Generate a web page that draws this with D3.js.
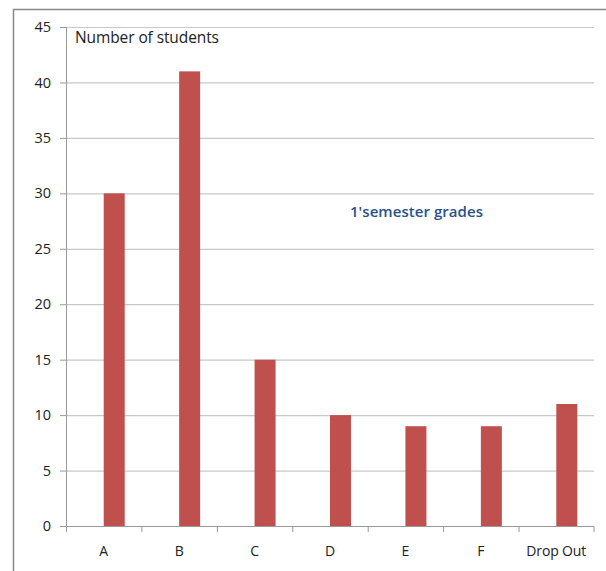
<!DOCTYPE html>
<meta charset="utf-8">
<script src="https://d3js.org/d3.v7.min.js"></script>
<style>
  body { margin: 0; background: #fff; }
  text { font-family: "Open Sans", "Liberation Sans", sans-serif; }
</style>
<body></body>
<script>

var grades = ["A", "B", "C", "D", "E", "F", "Drop Out"];
var students = [30, 41, 15, 10, 9, 9, 11];
var yTicks = [0, 5, 10, 15, 20, 25, 30, 35, 40, 45];

var W = 606, H = 571;
var margin = {left: 66, right: 12, top: 27, bottom: 45};
var width = 594 - margin.left;
var height = 526 - margin.top;

var svg = d3.select("body").append("svg")
  .attr("width", W)
  .attr("height", H);

// outer frame (top and left only)
svg.append("path")
  .attr("d", "M13.5,571 V9.5 H606")
  .attr("fill", "none")
  .attr("stroke", "#888")
  .attr("stroke-width", 1.5);

var g = svg.append("g")
  .attr("transform", `translate(${margin.left},${margin.top})`);

var xScale = d3.scaleBand()
  .domain(grades)
  .range([0, width]);
var yScale = d3.scaleLinear()
  .domain([0, 45])
  .range([height, 0]);

// gridlines
g.selectAll(".grid")
  .data(yTicks.filter(d => d > 0))
  .enter().append("line")
  .attr("x1", 0)
  .attr("x2", width)
  .attr("y1", d => yScale(d) + 0.5)
  .attr("y2", d => yScale(d) + 0.5)
  .attr("stroke", "#c8c8c8")
  .attr("stroke-width", 1.2);

// bars (offset right of category centre, like an excel chart with an empty series)
var barW = 21;
g.selectAll(".bar")
  .data(students)
  .enter().append("rect")
  .attr("class", "bar")
  .attr("x", (d, i) => xScale(grades[i]) + xScale.bandwidth() / 2)
  .attr("y", d => yScale(d))
  .attr("width", barW)
  .attr("height", d => height - yScale(d))
  .attr("fill", "#C0504D");

var yAxis = d3.axisLeft(yScale).tickValues(yTicks).tickSize(6).tickPadding(9);
var yAxisGroup = g.append("g").call(yAxis);
yAxisGroup.select(".domain").attr("stroke", "#999");
yAxisGroup.selectAll(".tick line").attr("stroke", "#999");
yAxisGroup.selectAll("text")
  .attr("font-size", 14.5)
  .attr("fill", "#222");

var xAxis = d3.axisBottom(xScale).tickSize(0).tickPadding(20);
var xAxisGroup = g.append("g")
  .attr("transform", `translate(0,${height})`)
  .call(xAxis);
xAxisGroup.select(".domain").attr("stroke", "#999").attr("d", `M0.5,6V0.5H${width}V6`);
xAxisGroup.selectAll("text")
  .attr("font-size", 14)
  .attr("fill", "#222");
xAxisGroup.selectAll(".tick").filter(d => d === "Drop Out").select("text")
  .attr("textLength", 60);

// category separator ticks
g.selectAll(".xtick")
  .data(grades)
  .enter().append("line")
  .attr("x1", d => xScale(d) + 0.5)
  .attr("x2", d => xScale(d) + 0.5)
  .attr("y1", height)
  .attr("y2", height + 6)
  .attr("stroke", "#999");

svg.append("text")
  .attr("x", 75)
  .attr("y", 43)
  .attr("font-size", 15.5)
  .attr("fill", "#222")
  .attr("textLength", 144)
  .text("Number of students");

svg.append("text")
  .attr("x", 350)
  .attr("y", 217)
  .attr("font-size", 15)
  .attr("font-weight", 600)
  .attr("fill", "#2B5189")
  .attr("textLength", 133)
  .text("1'semester grades");

</script>
